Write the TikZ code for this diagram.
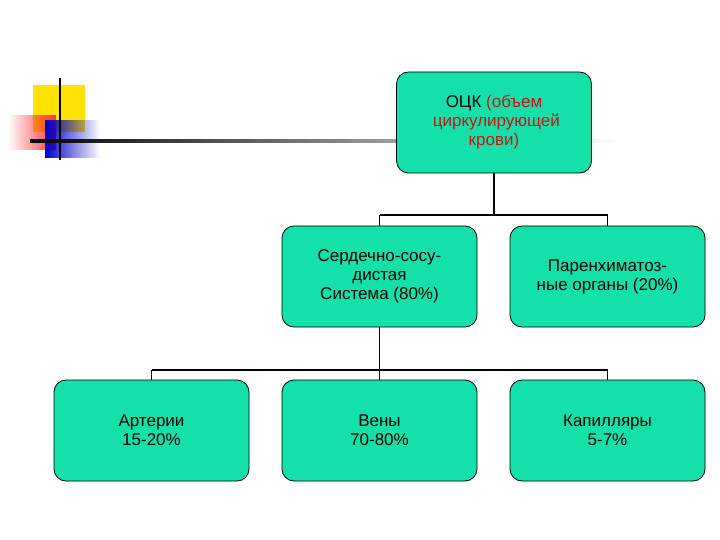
\documentclass[tikz,border=0pt]{standalone}
\usepackage{fontspec}
\setmainfont{Liberation Sans}
\usetikzlibrary{fadings}
\definecolor{boxfill}{RGB}{20,225,170}
\definecolor{txtred}{RGB}{200,20,20}
\begin{document}
\begin{tikzpicture}[x=1pt,y=-1pt,
  box/.style={draw=black,line width=0.8pt,fill=boxfill,rounded corners=12pt,minimum width=195pt,minimum height=101pt,align=center,inner sep=2pt,font=\fontsize{17}{21}\selectfont},
  bus/.style={line width=1.8pt,black}]
\useasboundingbox (0,0) rectangle (720,540);
\fill[white] (0,0) rectangle (720,540);
% decoration
\fill[yellow!85!orange] (33,85) rectangle (85,132);
\fill[red!80,path fading=west] (8,115) rectangle (56,150);
\fill[blue!80!black,path fading=east] (45,120) rectangle (100,158);
\shade[left color=black,right color=white] (30,139.5) rectangle (620,142.5);
\draw[line width=2.5pt,black] (60,78) -- (60,160);
% nodes
\node[box] (top) at (494,122.5) {ОЦК \textcolor{txtred}{(объем}\\[-2pt]\textcolor{txtred}{\ циркулирующей}\\[-2pt]\textcolor{txtred}{крови)}};
\node[box] (cv) at (379.5,276.5) {Сердечно-сосу-\\[-2pt]дистая\\[-2pt]Система (80\%)};
\node[box] (par) at (607.5,276.5) {Паренхиматоз-\\[-2pt]ные органы (20\%)};
\node[box] (art) at (151.5,430.5) {Артерии\\[-2pt]15-20\%};
\node[box] (ven) at (379.5,430.5) {Вены\\[-2pt]70-80\%};
\node[box] (cap) at (607.5,430.5) {Капилляры\\[-2pt]5-7\%};
% connectors
\draw[bus] (top.south) -- (494,215) coordinate (b1);
\draw[bus] (cv.north |- b1) -- (par.north |- b1);
\draw[bus] (cv.north |- b1) -- (cv.north);
\draw[bus] (par.north |- b1) -- (par.north);
\draw[bus] (cv.south) -- (379.5,370) coordinate (b2);
\draw[bus] (art.north |- b2) -- (cap.north |- b2);
\draw[bus] (art.north |- b2) -- (art.north);
\draw[bus] (ven.north |- b2) -- (ven.north);
\draw[bus] (cap.north |- b2) -- (cap.north);
\end{tikzpicture}
\end{document}
